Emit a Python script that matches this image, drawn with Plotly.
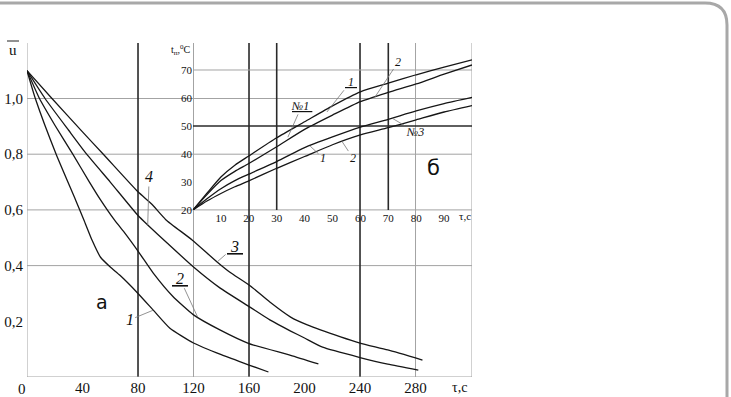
import plotly.graph_objects as go

# ---------------- data ----------------
# main panel (a): u-bar vs tau, s
tau_1 = [0, 6, 21, 35, 41, 47, 53, 60, 67, 80, 91, 103, 120, 140, 160, 174]
u_1 = [1.10, 1.00, 0.80, 0.636, 0.564, 0.49, 0.43, 0.395, 0.365, 0.30, 0.24, 0.175, 0.122, 0.08, 0.043, 0.018]

tau_2 = [0, 9, 20, 33, 45, 53, 63, 70, 81, 91, 105, 120, 139, 160, 190, 210]
u_2 = [1.10, 1.00, 0.905, 0.80, 0.70, 0.636, 0.564, 0.52, 0.445, 0.373, 0.29, 0.223, 0.169, 0.12, 0.078, 0.047]

tau_3 = [0, 18, 40, 55, 80, 90, 100, 119, 137, 146, 161, 175, 190, 202, 226, 240, 260, 285]
u_3 = [1.10, 1.00, 0.88, 0.80, 0.665, 0.62, 0.565, 0.492, 0.413, 0.377, 0.327, 0.269, 0.215, 0.187, 0.144, 0.122, 0.097, 0.061]

tau_4 = [0, 13, 30, 43, 60, 80, 87, 101, 120, 139, 161, 175, 190, 200, 213, 240, 260, 282]
u_4 = [1.10, 1.00, 0.886, 0.80, 0.70, 0.58, 0.546, 0.481, 0.395, 0.32, 0.25, 0.205, 0.165, 0.14, 0.107, 0.07, 0.046, 0.025]

# inset panel (б): t_p, °C vs tau, s
t_ins = [0, 5, 10, 15, 20, 30, 40, 50, 60, 70, 80, 90, 100]
T_n1_1 = [20, 26.0, 31.8, 36.0, 39.3, 45.8, 51.5, 57.2, 62.2, 65.3, 68.3, 71.0, 73.6]
T_n1_2 = [20, 25.5, 30.5, 33.8, 36.6, 42.6, 48.8, 53.9, 58.7, 62.0, 65.0, 68.5, 71.8]
T_n3_1 = [20, 24.0, 27.6, 30.5, 32.8, 37.3, 42.3, 46.1, 49.6, 52.4, 55.4, 58.0, 60.2]
T_n3_2 = [20, 23.2, 25.9, 28.3, 30.4, 34.9, 39.1, 43.3, 46.8, 49.4, 52.2, 55.0, 57.3]

# ticks
main_x_ticks = [40, 80, 120, 160, 200, 240, 280]
main_y_ticks = [0.2, 0.4, 0.6, 0.8, 1.0]
main_y_text = ["0,2", "0,4", "0,6", "0,8", "1,0"]
ins_x_ticks = [10, 20, 30, 40, 50, 60, 70, 80, 90]
ins_y_ticks = [20, 30, 40, 50, 60, 70]

# grid lines
main_h_grey = [0.4, 0.6, 0.8, 1.0]
main_v_grey = [120, 280]
main_v_black = [80, 160, 240]
ins_h_black = [50]
ins_h_grey = [70]
ins_v_black = [30, 70]

# ---------------- geometry ----------------
W, H = 731, 397
def px(x, y):
    return x / W, 1 - y / H
def dom_x(a, b):
    return [a / W, b / W]
def dom_y(bottom, top):
    return [1 - bottom / H, 1 - top / H]

XMAX = 320.7
YMAX = 1.1993
Y2MIN, Y2MAX = 20, 79.64

SERIF = "Liberation Serif, Times New Roman, serif"
GREY = "#a3a3a3"
DARK = "#2a2a2a"
CURVE = "#161616"

fig = go.Figure()
for tx, uy in [(tau_1, u_1), (tau_2, u_2), (tau_3, u_3), (tau_4, u_4)]:
    fig.add_trace(go.Scatter(x=tx, y=uy, mode="lines", xaxis="x", yaxis="y",
                             line=dict(color=CURVE, width=1.3, shape="spline", smoothing=0.5),
                             hoverinfo="skip"))
for Ty in [T_n1_1, T_n1_2, T_n3_1, T_n3_2]:
    fig.add_trace(go.Scatter(x=t_ins, y=Ty, mode="lines", xaxis="x2", yaxis="y2",
                             line=dict(color=CURVE, width=1.3, shape="spline", smoothing=0.6),
                             hoverinfo="skip"))

shapes = []
def line(xref, yref, x0, y0, x1, y1, color, width):
    shapes.append(dict(type="line", xref=xref, yref=yref, x0=x0, y0=y0, x1=x1, y1=y1,
                       line=dict(color=color, width=width), layer="below"))

for v in main_h_grey:
    line("x", "y", 0, v, XMAX, v, GREY, 1)
for v in main_v_grey:
    line("x", "y", v, 0, v, YMAX, GREY, 1)
for v in main_v_black:
    line("x", "y", v, 0, v, YMAX, DARK, 1.6)
line("x", "y", XMAX, 0, XMAX, YMAX, GREY, 1)
line("x", "y", 0, 0, 0, YMAX, GREY, 1)
line("x", "y", 0, 0, XMAX, 0, GREY, 1)
for v in ins_h_black:
    line("x2", "y2", 0, v, 100, v, DARK, 1.6)
for v in ins_h_grey:
    line("x2", "y2", 0, v, 100, v, GREY, 1)
for v in ins_v_black:
    line("x2", "y2", v, Y2MIN, v, Y2MAX, DARK, 1.6)

# frame of the figure (rounded corner, top-right)
a = px(0, 3); b = px(705, 3); c = px(727, 3); d = px(727, 25); e = px(727, 400)
shapes.append(dict(type="path", xref="paper", yref="paper",
                   path=f"M {a[0]},{a[1]} L {b[0]},{b[1]} Q {c[0]},{c[1]} {d[0]},{d[1]} L {e[0]},{e[1]}",
                   line=dict(color="#a8a8a8", width=3)))
# overbar of u
o1 = px(7, 41); o2 = px(19, 41)
shapes.append(dict(type="line", xref="paper", yref="paper", x0=o1[0], y0=o1[1], x1=o2[0], y1=o2[1],
                   line=dict(color="#222", width=1)))

ann = []
def ptext(x, y, text, size, family=SERIF, xanchor="center"):
    p = px(x, y)
    ann.append(dict(xref="paper", yref="paper", x=p[0], y=p[1], text=text, showarrow=False,
                    font=dict(family=family, size=size, color="#111"), xanchor=xanchor, yanchor="middle"))

ptext(13, 50, "u", 15)
ptext(22, 389, "0", 15)
ptext(459, 387, "τ,c", 14)
ptext(465, 216, "τ,c", 11)
ptext(193, 50, "t<sub>п</sub>,<sup>0</sup>C", 10, xanchor="right")
ptext(102, 302, "а", 19, family="DejaVu Sans")
ptext(433, 168, "б", 21, family="DejaVu Sans")

def lead(xr, yr, x, y, lx, ly, text, size):
    ann.append(dict(xref=xr, yref=yr, axref=xr, ayref=yr, x=x, y=y, ax=lx, ay=ly, text=text,
                    showarrow=True, arrowhead=0, arrowwidth=0.8, arrowcolor="#777",
                    font=dict(family=SERIF, size=size, color="#111")))

# main labels
lead("x", "y", tau_1[10], u_1[10], 74, 0.205, "<i>1</i>", 16)
lead("x", "y", 123, 0.215, 110, 0.355, "<i><u>&nbsp;2&nbsp;</u></i>", 16)
lead("x", "y", tau_3[8], u_3[8], 150, 0.47, "<i><u>&nbsp;3&nbsp;</u></i>", 16)
lead("x", "y", tau_4[6], u_4[6], 88, 0.72, "<i>4</i>", 16)
# inset labels
lead("x2", "y2", 48, 55.0, 56.5, 65.8, "<i><u>&nbsp;1&nbsp;</u></i>", 12)
lead("x2", "y2", 34, 46.0, 39, 57.2, "<i><u>№1&nbsp;</u></i>", 12)
lead("x2", "y2", 65, 60.0, 73.5, 72.8, "<i>2</i>", 12)
lead("x2", "y2", 71.7, 52.6, 79.5, 48.0, "<i>№3</i>", 12)
lead("x2", "y2", 42, 42.8, 46.6, 38.6, "<i>1</i>", 12)
lead("x2", "y2", 53.4, 44.5, 57.3, 38.6, "<i>2</i>", 12)

common = dict(showgrid=False, zeroline=False, showline=False, ticks="", automargin=False)
fig.update_layout(
    width=W, height=H, autosize=False,
    margin=dict(l=0, r=0, t=0, b=0, autoexpand=False),
    paper_bgcolor="white", plot_bgcolor="rgba(0,0,0,0)",
    showlegend=False, shapes=shapes, annotations=ann,
    xaxis=dict(domain=dom_x(27, 472), range=[0, XMAX], anchor="y",
               tickvals=main_x_ticks, ticktext=[str(v) for v in main_x_ticks],
               tickfont=dict(family=SERIF, size=15, color="#111"), **common),
    yaxis=dict(domain=dom_y(377, 43), range=[0, YMAX], anchor="x",
               tickvals=main_y_ticks, ticktext=main_y_text, ticklabelstandoff=3,
               tickfont=dict(family=SERIF, size=15, color="#111"), **common),
    xaxis2=dict(domain=dom_x(193, 472), range=[0, 100], anchor="y2",
                tickvals=ins_x_ticks, ticktext=[str(v) for v in ins_x_ticks],
                tickfont=dict(family=SERIF, size=11, color="#111"), **common),
    yaxis2=dict(domain=dom_y(210, 43), range=[Y2MIN, Y2MAX], anchor="x2",
                tickvals=ins_y_ticks, ticktext=[str(v) for v in ins_y_ticks],
                tickfont=dict(family=SERIF, size=11, color="#111"), **common),
)

# remove the browser's default 8 px body margin so the figure fills the window
fig.write_html("out.html", config={"displayModeBar": False, "staticPlot": True},
               post_script="document.body.style.margin='0';document.body.style.overflow='hidden';")
